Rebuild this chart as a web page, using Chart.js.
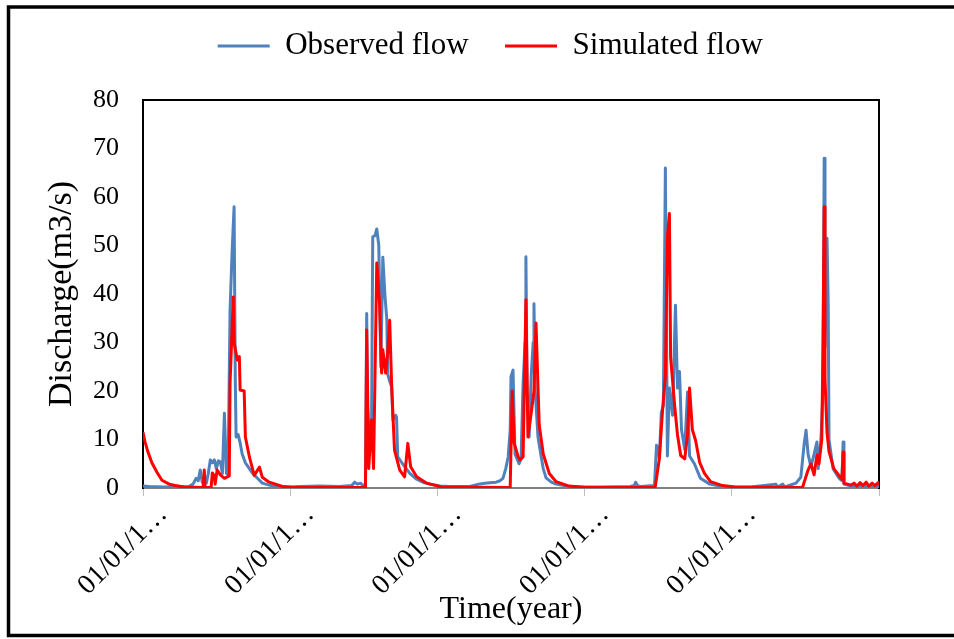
<!DOCTYPE html>
<html>
<head>
<meta charset="utf-8">
<script src="https://cdn.jsdelivr.net/npm/chart.js@4/dist/chart.umd.min.js"></script>
<style>
html,body{margin:0;padding:0;background:#ffffff;}
#c{display:block;}
</style>
</head>
<body>
<canvas id="c" width="954" height="639"></canvas>
<script>
// ---- data (x = day index since the first 01/01, y = discharge m3/s) ----
const seriesNames = ['Observed flow', 'Simulated flow'];
const xTickDays = [0, 365, 730, 1096, 1461, 1826];
const xTickLabels = ['01/01/1…', '01/01/1…', '01/01/1…', '01/01/1…', '01/01/1…', ''];
const yMin = 0, yMax = 80, yStep = 10;

const observedFlow = [
  [0,0.4],[15,0.3],[52,0.2],[114,0.3],[124,0.8],[132,2],[137,1.5],[142,3.7],[147,1.2],[157,1],
  [162,3],[167,5.8],[172,5.2],[177,5.8],[182,4],[187,5.6],[192,5.4],[197,3],[202,15.4],[207,3],
  [211,2.8],[216,36.7],[221,48.6],[226,58],[229,22],[231,10.5],[236,11],[241,9.3],[246,7],[254,5.2],
  [264,4],[271,3.1],[284,2],[296,1],[313,0.6],[328,0.3],[368,0.2],
  [388,0.3],[438,0.4],[488,0.3],[518,0.5],[525,1.2],[532,0.8],[540,1],[547,0.3],[552,1],[555,36],
  [557,16.7],[562,10],[567,12.9],[570,51.8],[575,52],[577,52.5],[580,53.4],[585,50],[587,40],[590,25],
  [595,47.6],[600,40],[605,34.6],[607,23.5],[612,22],[617,20.8],[620,14],[627,15],[629,14.6],[632,6.4],
  [644,5],[662,3],[679,1.8],[694,1.2],[712,0.8],[736,0.4],
  [761,0.3],[811,0.3],[833,0.8],[848,1],[861,1.1],[876,1.2],[886,1.5],[893,2],[900,4],[906,6.4],
  [911,12],[913,23],[918,24.3],[923,7],[928,6],[933,5],[938,6],[943,21.6],[948,30],[950,47.7],
  [953,20],[958,10.5],[963,23],[968,30],[970,38],[973,20],[980,10.5],[988,6.4],[993,4],[1000,2.1],
  [1013,1.2],[1025,0.8],[1057,0.3],[1097,0.2],
  [1135,0.2],[1209,0.3],[1219,0.5],[1222,1.2],[1227,0.5],[1234,0.3],[1269,0.5],[1274,8.8],[1279,8],
  [1281,6],[1286,15.6],[1291,17],[1296,66],[1301,6.6],[1306,20.6],[1314,15],[1321,37.7],[1326,20.6],
  [1331,24],[1336,12],[1344,8],[1351,19.8],[1356,6.6],[1368,5],[1383,2],[1406,0.8],[1438,0.3],[1463,0.2],
  [1508,0.2],[1570,0.8],[1575,0.2],[1587,0.8],[1592,0.2],[1620,1],[1632,2.2],[1640,8.8],[1645,11.9],
  [1650,7],[1657,4.4],[1665,7],[1672,9.5],[1675,4],[1682,10],[1687,19.8],[1690,68],[1692,29],[1697,51.5],
  [1700,37.7],[1702,10],[1712,4],[1727,2],[1734,1.5],[1737,9.5],[1739,0.8],[1757,0.4],[1826,0.3]
];

const simulatedFlow = [
  [0,11.5],[5,9.5],[12,7.5],[22,5.2],[35,3.2],[47,1.6],[65,0.8],[80,0.5],[102,0.2],[149,0.1],
  [152,3.7],[154,0.1],[169,0.1],[172,3.1],[177,2.5],[179,0.8],[184,3.7],[192,2.7],[202,2],[214,2.5],
  [216,21.6],[224,39.4],[226,30],[234,26.4],[239,27.1],[241,20.2],[251,20],[254,10.5],[264,6.4],[276,2.6],
  [289,4.3],[296,2.2],[313,1.2],[346,0.3],[376,0.1],
  [552,0.1],[555,32.6],[560,4],[567,14],[572,4],[580,46.4],[587,38],[592,23.7],[595,28.5],[602,23.7],
  [607,27.8],[612,34.6],[617,20.8],[624,7.8],[637,3.7],[649,2.3],[657,9.2],[664,4.4],[679,2.3],[704,1],
  [741,0.2],
  [911,0.1],[916,20],[921,9.2],[931,6.4],[935,5.8],[943,6.4],[950,38.8],[955,10.5],[963,15.4],[970,20],
  [975,34],[983,13],[993,7],[1008,3],[1025,1.3],[1057,0.4],[1097,0.1],
  [1269,0.1],[1271,0.3],[1281,6],[1289,16],[1296,23],[1301,51.5],[1306,56.6],[1309,27],[1319,17],[1326,11],
  [1334,6.7],[1344,6],[1351,11],[1356,20.6],[1363,12],[1371,9.8],[1381,5.3],[1393,3],[1408,1.3],[1438,0.5],
  [1468,0.2],
  [1632,0.1],[1637,0.3],[1650,3.7],[1657,5],[1665,2.7],[1672,6.8],[1677,5],[1684,10],[1687,29],[1690,58],
  [1692,22.6],[1697,11.5],[1702,7.5],[1714,4],[1732,2],[1734,1.8],[1737,7.4],[1739,1],[1757,0.6],[1764,1],
  [1771,0.4],[1779,1.1],[1786,0.5],[1794,1.2],[1801,0.4],[1809,1],[1816,0.5],[1824,1.1],[1826,0.6]
];

// ---- chart ----
const FONT = "'Liberation Serif', 'Times New Roman', serif";
const toXY = arr => arr.map(([d, v]) => ({x: d, y: v}));

// outer picture frame (left, top and bottom edges; right edge lies outside the picture)
const outerFrame = {
  id: 'outerFrame',
  afterDraw(chart) {
    const c = chart.ctx;
    c.save();
    c.strokeStyle = '#000000';
    c.lineWidth = 3.5;
    c.beginPath();
    c.moveTo(960, 7);
    c.lineTo(8.5, 7);
    c.lineTo(8.5, 635.5);
    c.lineTo(960, 635.5);
    c.stroke();
    c.restore();
  }
};

new Chart(document.getElementById('c'), {
  type: 'line',
  data: {
    datasets: [
      {label: seriesNames[0], data: toXY(observedFlow), borderColor: '#4F81BD', backgroundColor: '#4F81BD',
       borderWidth: 3, pointRadius: 0, tension: 0, order: 2, borderJoinStyle: 'round', fill: false},
      {label: seriesNames[1], data: toXY(simulatedFlow), borderColor: '#FF0000', backgroundColor: '#FF0000',
       borderWidth: 3, pointRadius: 0, tension: 0, order: 1, borderJoinStyle: 'round', fill: false}
    ]
  },
  options: {
    responsive: false,
    animation: false,
    devicePixelRatio: 1,
    layout: {padding: {top: -6, left: 26.5, right: 0, bottom: 0}},
    plugins: {
      legend: {
        display: true, position: 'top', align: 'center',
        labels: {
          font: {family: FONT, size: 31}, color: '#000000',
          usePointStyle: true, pointStyle: 'line', pointStyleWidth: 52, padding: 36.5,
          sort: (a, b) => a.datasetIndex - b.datasetIndex
        }
      },
      tooltip: {enabled: false}
    },
    scales: {
      x: {
        type: 'linear', position: 'bottom', min: 0, max: 1826,
        afterBuildTicks: s => { s.ticks = xTickDays.map(v => ({value: v})); },
        afterFit: s => { s.height = 151; },
        ticks: {
          autoSkip: false, minRotation: 45, maxRotation: 45, padding: 2, labelOffset: 20,
          font: {family: FONT, size: 28}, color: '#000000',
          callback: (v, i) => xTickLabels[i]
        },
        grid: {display: true, drawOnChartArea: false, drawTicks: true, tickLength: 8, color: '#BFBFBF', lineWidth: 1},
        border: {display: true, color: '#808080', width: 2},
        title: {display: true, text: 'Time(year)', font: {family: FONT, size: 32}, color: '#000000', padding: {top: 0, bottom: 10}}
      },
      xTop: {
        type: 'linear', position: 'top', min: 0, max: 1826,
        afterFit: s => { s.height = 28.5; },
        ticks: {display: false}, grid: {display: false},
        border: {display: true, color: '#000000', width: 2}
      },
      y: {
        type: 'linear', position: 'left', min: yMin, max: yMax,
        afterFit: s => { s.width = 116.5; },
        ticks: {stepSize: yStep, font: {family: FONT, size: 26}, color: '#000000', padding: 16},
        grid: {display: false},
        border: {display: true, color: '#000000', width: 2},
        title: {display: true, text: 'Discharge(m3/s)', font: {family: FONT, size: 34}, color: '#000000', padding: {top: 15, bottom: 0}}
      },
      yRight: {
        type: 'linear', position: 'right', min: yMin, max: yMax,
        afterFit: s => { s.width = 75; },
        ticks: {display: false}, grid: {display: false},
        border: {display: true, color: '#000000', width: 2}
      }
    }
  },
  plugins: [outerFrame]
});
</script>
</body>
</html>
